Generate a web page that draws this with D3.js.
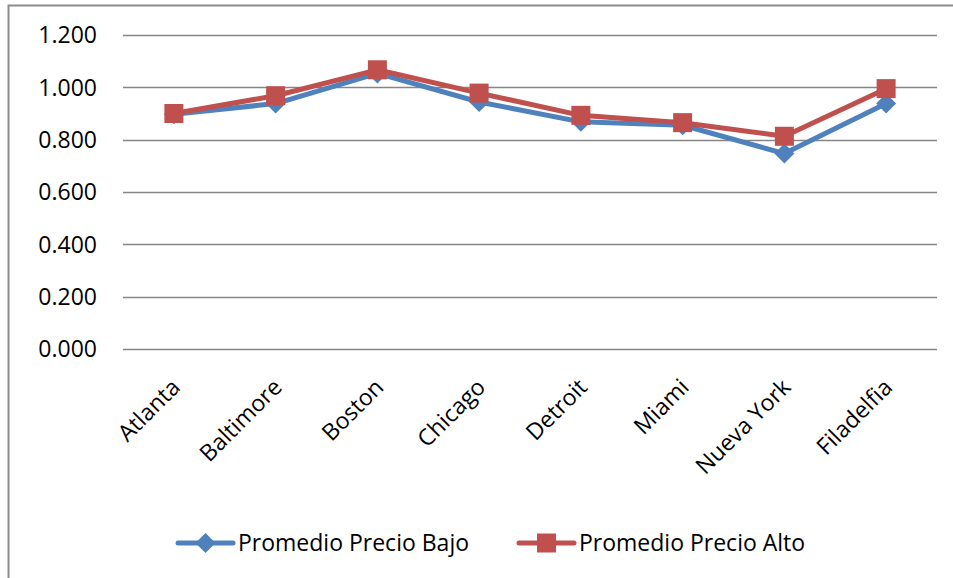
<!DOCTYPE html>
<html>
<head>
<meta charset="utf-8">
<script src="https://cdn.jsdelivr.net/npm/d3@7"></script>
<style>
  body { margin: 0; background: #fff; }
  svg text { font-family: "Open Sans", sans-serif; fill: #000; }
</style>
</head>
<body>
<svg id="chart" width="953" height="578"></svg>
<script>
// Chart data
const cities = ['Atlanta', 'Baltimore', 'Boston', 'Chicago', 'Detroit', 'Miami', 'Nueva York', 'Filadelfia'];
const precioBajo = [0.897, 0.938, 1.053, 0.944, 0.868, 0.855, 0.747, 0.938];
const precioAlto = [0.900, 0.968, 1.067, 0.978, 0.893, 0.865, 0.813, 0.995];
const yTicks = [0, 0.2, 0.4, 0.6, 0.8, 1.0, 1.2];

const series = [
    { name: 'Promedio Precio Bajo', values: precioBajo, color: '#4F81BD', marker: 'diamond' },
    { name: 'Promedio Precio Alto', values: precioAlto, color: '#C0504D', marker: 'square' }
];

const svg = d3.select('#chart');

// Outer chart frame (only top and left edges fall inside the picture)
svg.append('rect')
    .attr('x', 8.5).attr('y', 5.5)
    .attr('width', 960).attr('height', 590)
    .attr('fill', 'none')
    .attr('stroke', '#8c8c8c')
    .attr('stroke-width', 2);

const plot = { left: 123, right: 937, top: 35, bottom: 349 };

const x = d3.scaleBand()
    .domain(cities)
    .range([plot.left, plot.right]);

const y = d3.scaleLinear()
    .domain([0, 1.2])
    .range([plot.bottom, plot.top]);

// Gridlines
svg.append('g')
    .selectAll('line')
    .data(yTicks)
    .enter()
    .append('line')
    .attr('x1', plot.left)
    .attr('x2', plot.right)
    .attr('y1', d => Math.round(y(d)) + 0.5)
    .attr('y2', d => Math.round(y(d)) + 0.5)
    .attr('stroke', '#868686')
    .attr('stroke-width', 1.5);

// Y axis labels
svg.append('g')
    .selectAll('text')
    .data(yTicks)
    .enter()
    .append('text')
    .attr('x', 97)
    .attr('y', d => y(d))
    .attr('dy', '0.36em')
    .attr('text-anchor', 'end')
    .style('font-size', '23px')
    .text(d => d3.format('.3f')(d));

// X axis labels, rotated
svg.append('g')
    .selectAll('text')
    .data(cities)
    .enter()
    .append('text')
    .attr('transform', d => `translate(${x(d) + x.bandwidth() / 2 + 2},${383}) rotate(-45)`)
    .attr('text-anchor', 'end')
    .attr('dy', '0.35em')
    .style('font-size', '23px')
    .text(d => d);

const cx = d => x(d) + x.bandwidth() / 2;

const line = d3.line()
    .x((d, i) => cx(cities[i]))
    .y(d => y(d));

function drawMarker(g, type, color, px, py) {
    if (type === 'diamond') {
        g.append('path')
            .attr('d', `M${px},${py - 10}L${px + 10},${py}L${px},${py + 10}L${px - 10},${py}Z`)
            .attr('fill', color);
    } else {
        g.append('rect')
            .attr('x', px - 9.5).attr('y', py - 9.5)
            .attr('width', 19).attr('height', 19)
            .attr('fill', color);
    }
}

series.forEach(s => {
    const g = svg.append('g');
    g.append('path')
        .datum(s.values)
        .attr('fill', 'none')
        .attr('stroke', s.color)
        .attr('stroke-width', 5)
        .attr('stroke-linejoin', 'round')
        .attr('d', line);
    s.values.forEach((v, i) => drawMarker(g, s.marker, s.color, cx(cities[i]), y(v)));
});

// Legend
const legendItems = [
    { s: series[0], x: 178 },
    { s: series[1], x: 519 }
];
legendItems.forEach(item => {
    const g = svg.append('g');
    const ly = 543;
    g.append('line')
        .attr('x1', item.x).attr('x2', item.x + 55)
        .attr('y1', ly).attr('y2', ly)
        .attr('stroke', item.s.color)
        .attr('stroke-width', 5)
        .attr('stroke-linecap', 'round');
    drawMarker(g, item.s.marker, item.s.color, item.x + 27.5, ly);
    g.append('text')
        .attr('x', item.x + 60)
        .attr('y', ly)
        .attr('dy', '0.36em')
        .style('font-size', '23px')
        .text(item.s.name);
});
</script>
</body>
</html>
